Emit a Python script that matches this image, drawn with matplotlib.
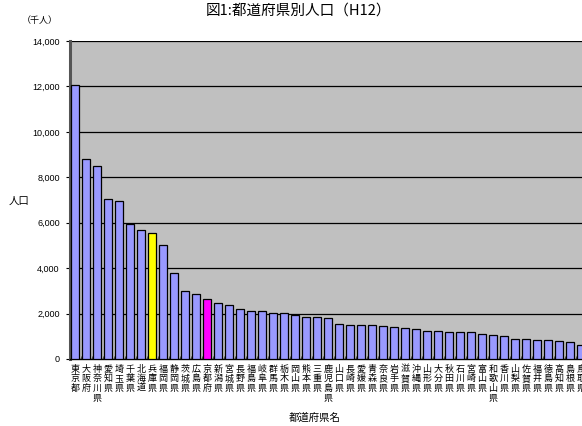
import numpy as np
import matplotlib.pyplot as plt
from matplotlib.ticker import FuncFormatter, MultipleLocator

plt.rcParams['font.family'] = ['Noto Sans CJK JP', 'DejaVu Sans']

# 都道府県別人口 (平成12年, 千人)
prefs = ['東京都', '大阪府', '神奈川県', '愛知県', '埼玉県', '千葉県', '北海道', '兵庫県',
         '福岡県', '静岡県', '茨城県', '広島県', '京都府', '新潟県', '宮城県', '長野県',
         '福島県', '岐阜県', '群馬県', '栃木県', '岡山県', '熊本県', '三重県', '鹿児島県',
         '山口県', '長崎県', '愛媛県', '青森県', '奈良県', '岩手県', '滋賀県', '沖縄県',
         '山形県', '大分県', '秋田県', '石川県', '宮崎県', '富山県', '和歌山県', '香川県',
         '山梨県', '佐賀県', '福井県', '徳島県', '高知県', '島根県', '鳥取県']
population = [12064, 8805, 8490, 7043, 6938, 5926, 5683, 5551,
              5016, 3767, 2986, 2879, 2644, 2476, 2365, 2215,
              2127, 2108, 2025, 2005, 1951, 1859, 1857, 1786,
              1528, 1517, 1493, 1476, 1443, 1416, 1343, 1318,
              1244, 1221, 1189, 1181, 1170, 1121, 1070, 1023,
              888, 877, 829, 824, 814, 762, 613]
highlight = {'兵庫県': '#FFFF00', '京都府': '#FF00FF'}

W, H = 582, 426
fig = plt.figure(figsize=(W / 100, H / 100), dpi=100)
# plot area runs a little past the right edge of the figure
ax = fig.add_axes([69.5 / W, (H - 359) / H, 517 / W, 318 / H])
ax.set_facecolor('#C0C0C0')

x = np.arange(len(prefs))
colors = [highlight.get(p, '#9999FF') for p in prefs]
# faint shadow behind each bar
ax.bar(x + 0.08, population, width=0.68, color='#6E6E6E', zorder=2)
ax.bar(x, population, width=0.68, color=colors, edgecolor='black', linewidth=0.9, zorder=3)

ax.set_xlim(-0.5, len(prefs) - 0.5)
ax.set_ylim(0, 14000)
ax.yaxis.set_major_locator(MultipleLocator(2000))
ax.yaxis.set_major_formatter(FuncFormatter(lambda v, p: f'{int(v):,}'))
ax.grid(axis='y', color='black', linewidth=0.9, zorder=1)
ax.set_axisbelow(True)

ax.set_xticks(x)
ax.set_xticklabels(['\n'.join(p) for p in prefs], fontsize=6.5, linespacing=1.1, va='top')
ax.set_xticks(np.arange(len(prefs) + 1) - 0.5, minor=True)
ax.tick_params(axis='x', which='major', length=0, pad=4)
ax.tick_params(axis='x', which='minor', direction='in', length=2.5, color='#404040')
ax.tick_params(axis='y', labelsize=6.5, length=3, width=0.8, pad=4)
for lbl in ax.get_yticklabels():
    lbl.set_family('Liberation Sans')

for side in ['top', 'right']:
    ax.spines[side].set_visible(False)
ax.spines['left'].set_color('#555555')
ax.spines['left'].set_linewidth(2.2)
ax.spines['bottom'].set_linewidth(1.0)

fig.text(298 / W, 1 - 11 / H, '図1:都道府県別人口（H12）', ha='center', va='center', fontsize=10.5)
fig.text(40 / W, 1 - 20 / H, '（千人）', ha='center', va='center', fontsize=6.5)
fig.text(19 / W, 1 - 201 / H, '人口', ha='center', va='center', fontsize=7.5)
fig.text(315 / W, 1 - 418 / H, '都道府県名', ha='center', va='center', fontsize=7.5)

fig.savefig('out.png', dpi=100)
